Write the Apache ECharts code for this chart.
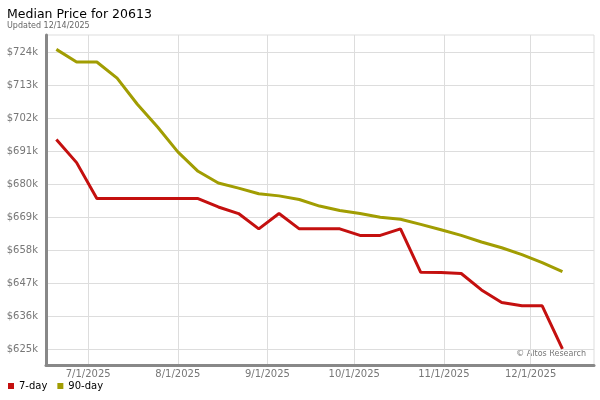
<!DOCTYPE html>
<html>
<head>
<meta charset="utf-8">
<script src="https://cdn.jsdelivr.net/npm/echarts@6/dist/echarts.min.js"></script>
<style>html,body{margin:0;padding:0;background:#fff}#c{width:600px;height:400px}</style>
</head>
<body>
<div id="c"></div>
<script>
const dates = ['2025-06-20','2025-06-27','2025-07-04','2025-07-11','2025-07-18','2025-07-25',
  '2025-08-01','2025-08-08','2025-08-15','2025-08-22','2025-08-29','2025-09-05','2025-09-12',
  '2025-09-19','2025-09-26','2025-10-03','2025-10-10','2025-10-17','2025-10-24','2025-10-31',
  '2025-11-07','2025-11-14','2025-11-21','2025-11-28','2025-12-05','2025-12-12'];
const sevenDay = [694.9, 687.2, 675.2, 675.2, 675.2, 675.2, 675.2, 675.2, 672.4, 670.2, 665.1, 670.2, 665.1,
  665.1, 665.1, 662.9, 662.9, 665.1, 650.6, 650.5, 650.2, 644.7, 640.5, 639.4, 639.4, 625.0];
const ninetyDay = [725.0, 720.8, 720.8, 715.4, 706.7, 699.1, 690.8, 684.3, 680.4, 678.7, 676.8, 676.1, 674.9,
  672.7, 671.2, 670.2, 669.0, 668.3, 666.6, 664.8, 662.9, 660.7, 658.8, 656.5, 653.8, 650.8];
const yTicks = [625, 636, 647, 658, 669, 680, 691, 702, 713, 724];
const xTicks = ['2025-07-01','2025-08-01','2025-09-01','2025-10-01','2025-11-01','2025-12-01'];

function toTs(s){ const p = s.split('-'); return Date.UTC(+p[0], +p[1]-1, +p[2]); }
const xMin = Date.UTC(2025, 5, 16, 10);
const xMax = Date.UTC(2025, 11, 22, 22);
const font = 'DejaVu Sans';

const chart = echarts.init(document.getElementById('c'));
chart.setOption({
  animation: false,
  textStyle: { fontFamily: font },
  title: {
    text: 'Median Price for 20613',
    subtext: 'Updated 12/14/2025',
    left: 2, top: 3, itemGap: 1,
    textStyle: { fontSize: 12.5, fontWeight: 'normal', color: '#000', fontFamily: font },
    subtextStyle: { fontSize: 8, color: '#666', fontFamily: font }
  },
  legend: {
    left: 3, top: 376, icon: 'rect', itemWidth: 6, itemHeight: 6, itemGap: 10,
    textStyle: { fontSize: 10, color: '#000', fontFamily: font },
    data: ['7-day', '90-day']
  },
  grid: { left: 46, right: 6, top: 35, bottom: 35, show: true, borderColor: '#ddd', borderWidth: 1 },
  xAxis: {
    type: 'value', min: xMin, max: xMax,
    axisLine: { show: true, lineStyle: { color: '#888', width: 3 } },
    axisTick: { show: false, customValues: xTicks.map(toTs) },
    axisLabel: {
      customValues: xTicks.map(toTs), color: '#777', fontSize: 10, margin: 4, fontFamily: font,
      formatter: function (v) { const d = new Date(v); return (d.getUTCMonth()+1) + '/' + d.getUTCDate() + '/' + d.getUTCFullYear(); }
    },
    splitLine: { show: true, lineStyle: { color: '#ddd', width: 1 } }
  },
  yAxis: {
    type: 'value', min: 619.65, max: 729.8,
    axisLine: { show: true, lineStyle: { color: '#888', width: 3 } },
    axisTick: { show: false, customValues: yTicks },
    axisLabel: {
      customValues: yTicks, color: '#777', fontSize: 10, margin: 8, fontFamily: font,
      formatter: function (v) { return '$' + v + 'k'; }
    },
    splitLine: { show: true, lineStyle: { color: '#ddd', width: 1 } }
  },
  graphic: [{
    type: 'text', right: 14, top: 350,
    style: { text: '© Altos Research', fontSize: 8, fill: '#777', fontFamily: font }
  }],
  series: [
    { name: '7-day', type: 'line', showSymbol: false, color: '#c4100f',
      lineStyle: { width: 3, color: '#c4100f' },
      data: dates.map((d, i) => [toTs(d), sevenDay[i]]) },
    { name: '90-day', type: 'line', showSymbol: false, color: '#a19d02',
      lineStyle: { width: 3, color: '#a19d02' },
      data: dates.map((d, i) => [toTs(d), ninetyDay[i]]) }
  ]
});
</script>
</body>
</html>
